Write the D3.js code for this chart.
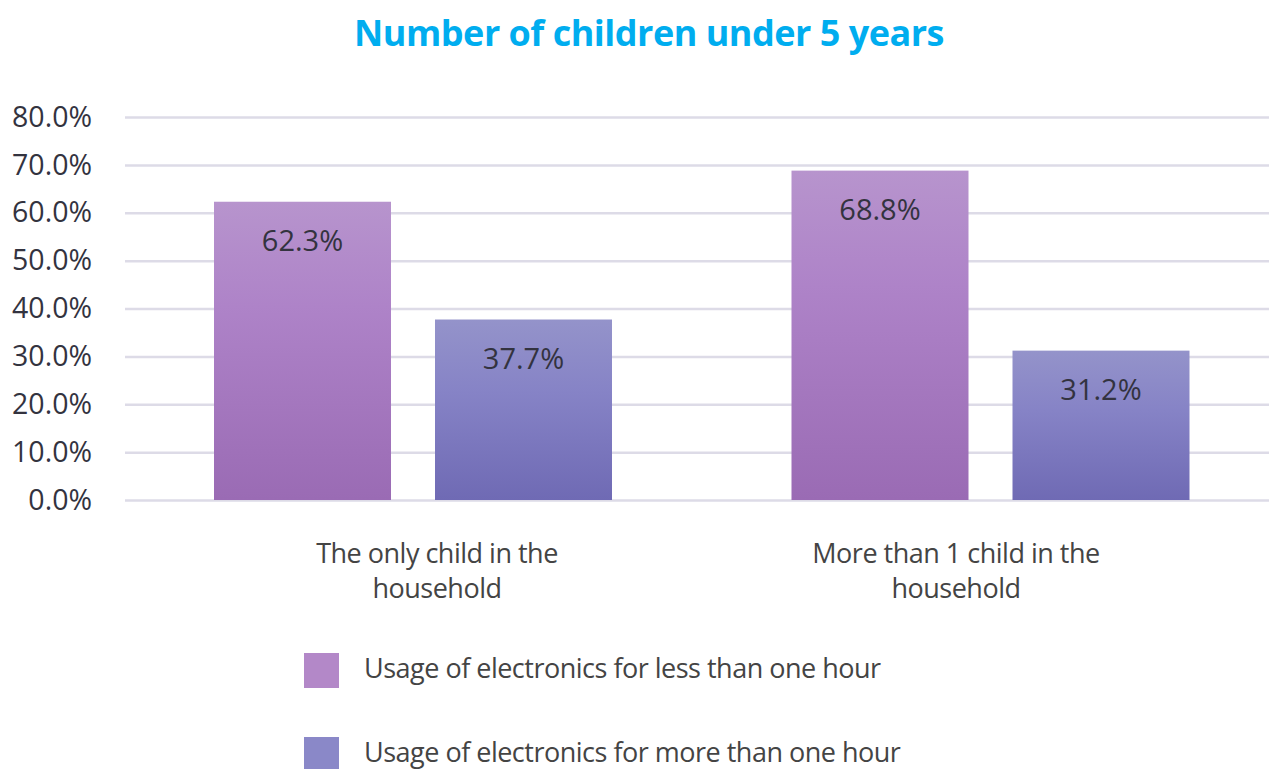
<!DOCTYPE html>
<html>
<head>
<meta charset="utf-8">
<script src="https://cdn.jsdelivr.net/npm/d3@7"></script>
<style>
  html, body { margin: 0; padding: 0; background: #ffffff; }
  svg { display: block; }
</style>
</head>
<body>
<svg id="chart" width="1269" height="769"></svg>
<script>
// Data
const categories = ["The only child in the household", "More than 1 child in the household"];
const categoryLines = [["The only child in the", "household"], ["More than 1 child in the", "household"]];
const seriesNames = ["Usage of electronics for less than one hour", "Usage of electronics for more than one hour"];
const lessThanOneHour = [62.3, 68.8];
const moreThanOneHour = [37.7, 31.2];
const yTicks = [0, 10, 20, 30, 40, 50, 60, 70, 80];
const titleText = "Number of children under 5 years";

const seriesValues = [lessThanOneHour, moreThanOneHour];
const rows = categories.map((c, i) => ({
  category: c,
  values: seriesValues.map((vals, s) => ({ series: s, value: vals[i] }))
}));

const svg = d3.select("#chart");
const W = 1269, H = 769;

// Gradient fills for the two series
const defs = svg.append("defs");
const gradStops = [
  [["0%", "#b794cd"], ["35%", "#ae83c8"], ["100%", "#9a6bb4"]],
  [["0%", "#9493ca"], ["40%", "#8683c6"], ["100%", "#6f6ab4"]]
];
gradStops.forEach((stops, i) => {
  const g = defs.append("linearGradient")
    .attr("id", "grad" + i)
    .attr("x1", 0).attr("y1", 0).attr("x2", 0).attr("y2", 1);
  stops.forEach(([o, c]) => g.append("stop").attr("offset", o).attr("stop-color", c));
});
const legendColors = ["#b388c8", "#8a88c8"];

// Scales
const y = d3.scaleLinear().domain([0, 80]).range([500, 117]);
const x0 = d3.scaleBand().domain(categories).range([124, 1279]).padding(0);
const x1 = d3.scaleBand().domain([0, 1]).range([90, 488]).paddingInner(44 / 221).paddingOuter(0);
const xLabel = d3.scalePoint().domain(categories).range([437, 956]);

// Title
svg.append("text")
  .attr("x", 649).attr("y", 46)
  .attr("text-anchor", "middle")
  .attr("font-family", "'Open Sans', sans-serif")
  .attr("font-weight", 700)
  .attr("font-size", 36)
  .attr("letter-spacing", -0.5)
  .attr("fill", "#00adef")
  .text(titleText);

// Gridlines and y-axis labels
const yAxis = d3.axisLeft(y)
  .tickValues(yTicks)
  .tickSize(-(W - 125))
  .tickPadding(33)
  .tickFormat(d => d.toFixed(1) + "%");

const gy = svg.append("g")
  .attr("transform", "translate(125,0)")
  .call(yAxis);
gy.select(".domain").remove();
gy.selectAll(".tick line")
  .attr("stroke", "#dddbe7")
  .attr("stroke-width", 2.5);
gy.selectAll(".tick text")
  .attr("font-family", "'Open Sans', sans-serif")
  .attr("font-size", 28.5)
  .attr("fill", "#33333f");

// Bars
const groups = svg.append("g").selectAll("g")
  .data(rows)
  .join("g")
  .attr("transform", d => `translate(${x0(d.category)},0)`);

groups.selectAll("rect")
  .data(d => d.values)
  .join("rect")
  .attr("x", d => x1(d.series))
  .attr("width", x1.bandwidth())
  .attr("y", d => y(d.value))
  .attr("height", d => y(0) - y(d.value))
  .attr("fill", d => `url(#grad${d.series})`);

groups.selectAll("text")
  .data(d => d.values)
  .join("text")
  .attr("x", d => x1(d.series) + x1.bandwidth() / 2)
  .attr("y", d => y(d.value) + 49)
  .attr("text-anchor", "middle")
  .attr("font-family", "'Open Sans', sans-serif")
  .attr("font-size", 29)
  .attr("fill", "#33333f")
  .text(d => d.value.toFixed(1) + "%");

// Category labels
const catG = svg.append("g").selectAll("text")
  .data(categories)
  .join("text")
  .attr("x", d => xLabel(d))
  .attr("y", 563)
  .attr("text-anchor", "middle")
  .attr("font-family", "'Open Sans', sans-serif")
  .attr("font-size", 27)
  .attr("letter-spacing", -0.5)
  .attr("fill", "#444444");
catG.each(function(d, i) {
  const t = d3.select(this);
  categoryLines[i].forEach((line, k) => {
    t.append("tspan")
      .attr("x", xLabel(d))
      .attr("dy", k === 0 ? 0 : 35)
      .text(line);
  });
});

// Legend
const legend = svg.append("g").selectAll("g")
  .data(seriesNames)
  .join("g")
  .attr("transform", (d, i) => `translate(304,${653 + i * 84})`);
legend.append("rect")
  .attr("width", 35).attr("height", 35)
  .attr("fill", (d, i) => legendColors[i]);
legend.append("text")
  .attr("x", 60).attr("y", 25)
  .attr("font-family", "'Open Sans', sans-serif")
  .attr("font-size", 27)
  .attr("letter-spacing", -0.5)
  .attr("fill", "#444444")
  .text(d => d);
</script>
</body>
</html>
